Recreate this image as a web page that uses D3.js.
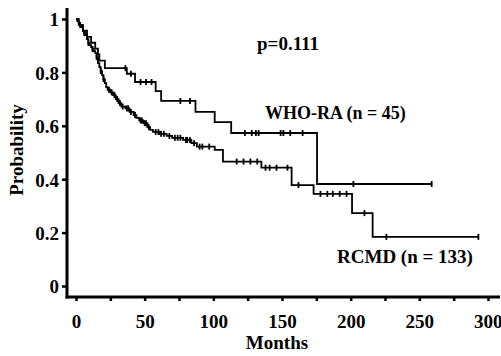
<!DOCTYPE html>
<html>
<head>
<meta charset="utf-8">
<script src="https://cdn.jsdelivr.net/npm/d3@7"></script>
<style>
  body { margin: 0; background: #fff; }
  svg text { font-family: "Liberation Serif", "Times New Roman", serif; font-weight: bold; fill: #000; }
</style>
</head>
<body>
<svg id="gfx" width="501" height="356"></svg>
<script>
// Kaplan-Meier steps (month, survival after the drop)
const whoTime = [0, 2, 5, 8, 11, 14, 16, 17, 21, 37, 43, 58, 62, 87, 101, 113, 175.5];
const whoSurv = [1, 0.978, 0.956, 0.933, 0.911, 0.889, 0.867, 0.844, 0.816, 0.795, 0.764, 0.73, 0.693, 0.652, 0.614, 0.573, 0.382];
const whoCensor = [36, 40, 47, 51, 55, 76, 83, 123, 128, 131, 133, 149, 151, 156, 165, 202];
const whoEnd = 259;

const rcmdTime = [0, 1, 2, 3, 4, 5, 6, 7, 8, 9, 10, 11, 12, 13, 14, 15, 16, 17, 18, 19, 20, 21, 22, 23, 25, 27, 29, 31, 33,
    36, 39, 42, 44, 46, 49, 52, 54, 56, 61, 66, 70, 78, 84, 88, 101, 107, 135, 157, 173, 201, 216];
const rcmdSurv = [1, 0.992, 0.985, 0.977, 0.97, 0.955, 0.947, 0.94, 0.925, 0.91, 0.902, 0.895, 0.887, 0.88, 0.872, 0.857,
    0.835, 0.82, 0.805, 0.79, 0.775, 0.76, 0.745, 0.735, 0.725, 0.715, 0.7, 0.685, 0.672, 0.665, 0.652, 0.64, 0.63, 0.62,
    0.61, 0.595, 0.585, 0.577, 0.57, 0.562, 0.555, 0.547, 0.535, 0.522, 0.51, 0.466, 0.443, 0.378, 0.345, 0.273, 0.184];
const rcmdCensor = [3, 6, 9, 12, 15, 18, 20, 24, 26, 28, 30, 32, 34, 37, 38, 40, 43, 47, 48, 50, 51, 53, 58, 60, 62, 64,
    68, 72, 74, 76, 80, 81, 83, 86, 90, 92, 97, 117, 122, 127, 132, 138, 141, 146, 154, 162, 178, 183, 187, 192, 197, 210, 226];
const rcmdEnd = 293;

const yTicks = [0, 0.2, 0.4, 0.6, 0.8, 1];
const yTickLabels = ["0", "0.2", "0.4", "0.6", "0.8", "1"];
const xTicks = [0, 25, 50, 75, 100, 125, 150, 175, 200, 225, 250, 275, 300];
const xTickLabels = [0, 50, 100, 150, 200, 250, 300];

const svg = d3.select("#gfx");
const x = d3.scaleLinear().domain([0, 300]).range([76, 488]);
const y = d3.scaleLinear().domain([0, 1]).range([286, 19]);
const axisX = 67, axisY = 297;

// Axes (offset from the data area, as in the original)
const yAxis = svg.append("g")
    .attr("transform", "translate(" + axisX + ",0)")
    .call(d3.axisLeft(y).tickValues(yTicks).tickSize(5).tickPadding(3)
        .tickFormat((d, i) => yTickLabels[i]));
yAxis.select(".domain").remove();
yAxis.selectAll(".tick line").attr("stroke-width", 2.5);
yAxis.selectAll("text").attr("font-size", 19).attr("dy", "0.36em");

const xAxis = svg.append("g")
    .attr("transform", "translate(0," + axisY + ")")
    .call(d3.axisBottom(x).tickValues(xTicks).tickSize(4).tickPadding(14)
        .tickFormat(d => xTickLabels.includes(d) ? d : ""));
xAxis.select(".domain").remove();
xAxis.selectAll(".tick line").attr("stroke-width", 2.5);
xAxis.selectAll("text").attr("font-size", 19);
// last label sits against the right edge
xAxis.selectAll("text").filter(d => d === 300).attr("text-anchor", "end").attr("dx", 14);

svg.append("line").attr("x1", axisX).attr("x2", axisX).attr("y1", 8).attr("y2", axisY + 1.5)
    .attr("stroke", "#000").attr("stroke-width", 3);
svg.append("line").attr("x1", axisX - 1.5).attr("x2", 500).attr("y1", axisY).attr("y2", axisY)
    .attr("stroke", "#000").attr("stroke-width", 3);

// Curves
function drawCurve(times, surv, censor, end) {
    const pts = times.map((t, i) => [t, surv[i]]);
    pts.push([end, surv[surv.length - 1]]);
    const line = d3.line().x(d => x(d[0])).y(d => y(d[1])).curve(d3.curveStepAfter);
    svg.append("path").attr("d", line(pts))
        .attr("fill", "none").attr("stroke", "#000").attr("stroke-width", 1.8);
    const marks = censor.concat([end]);
    svg.append("g").selectAll("line").data(marks).join("line")
        .attr("x1", d => x(d)).attr("x2", d => x(d))
        .attr("y1", d => y(surv[d3.bisectRight(times, d) - 1]) - 3)
        .attr("y2", d => y(surv[d3.bisectRight(times, d) - 1]) + 3)
        .attr("stroke", "#000").attr("stroke-width", 1.8);
}
drawCurve(whoTime, whoSurv, whoCensor, whoEnd);
drawCurve(rcmdTime, rcmdSurv, rcmdCensor, rcmdEnd);

// Labels
svg.append("text").attr("x", 257).attr("y", 50).attr("font-size", 19).text("p=0.111");
svg.append("text").attr("x", 265).attr("y", 119).attr("font-size", 18).text("WHO-RA (n = 45)");
svg.append("text").attr("x", 337).attr("y", 263).attr("font-size", 19).text("RCMD (n = 133)");
svg.append("text").attr("x", 277).attr("y", 349).attr("font-size", 19).attr("text-anchor", "middle").text("Months");
svg.append("text").attr("transform", "translate(23,150) rotate(-90)").attr("font-size", 19)
    .attr("text-anchor", "middle").text("Probability");
</script>
</body>
</html>
